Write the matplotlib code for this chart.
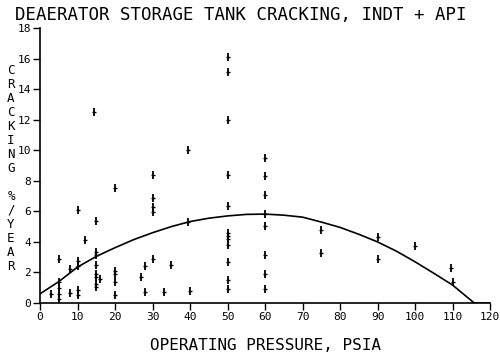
import matplotlib
matplotlib.use("Agg")
import matplotlib.pyplot as plt

# operating pressure (psia) and cracking rate (%/year)
pressure = [3, 5, 5, 5, 5, 5, 8, 8, 10, 10, 10, 10, 10, 12, 14.5, 15, 15, 15, 15,
            15, 15, 15, 15, 16, 20, 20, 20, 20, 20, 27, 28, 28,
            30, 30, 30, 30, 30, 33, 35, 39.5, 39.5, 40,
            50, 50, 50, 50, 50, 50, 50, 50, 50, 50, 50, 50,
            60, 60, 60, 60, 60, 60, 60, 60, 75, 75, 90, 90, 100, 110, 109.5]
cracking = [0.6, 2.9, 1.35, 1.0, 0.6, 0.25, 0.65, 2.2, 6.1, 2.75, 2.45, 0.85, 0.5, 4.1, 12.5, 5.4,
            3.35, 3.15, 2.5, 1.9, 1.7, 1.25, 1.05, 1.55, 7.5, 2.1, 1.9, 1.35, 0.5, 1.7, 2.45, 0.75,
            8.4, 6.85, 6.3, 5.95, 2.9, 0.75, 2.5, 10.0, 5.3, 0.8,
            16.1, 15.1, 12.0, 8.4, 6.35, 4.6, 4.4, 4.2, 3.8, 2.7, 1.5, 0.95,
            9.5, 8.3, 7.1, 5.85, 5.05, 3.15, 1.9, 0.95, 4.75, 3.3, 4.35, 2.9, 3.7, 1.35, 2.3]

# fitted curve
curve_x = [0, 5, 10, 15, 20, 25, 30, 35, 40, 45, 50, 55, 60, 65, 70, 75, 80, 85, 90,
           95, 100, 105, 110, 115.8, 120]
curve_y = [0.6, 1.4, 2.35, 3.05, 3.62, 4.15, 4.6, 5.0, 5.33, 5.55, 5.7, 5.8, 5.82, 5.75,
           5.62, 5.3, 4.95, 4.5, 4.0, 3.4, 2.7, 1.95, 1.18, 0, 0]

x_ticks = list(range(0, 121, 10))
y_ticks = list(range(0, 19, 2))

plt.rcParams['font.family'] = ['DejaVu Sans Mono']

fig = plt.figure(figsize=(5.0, 3.54), dpi=100)
ax = fig.add_axes([0.08, 0.144, 0.9, 0.777])

ax.plot(curve_x, curve_y, color='black', lw=1.2)
ax.plot(pressure, cracking, ls='none', marker='|', ms=6, mew=1.3, color='black')
ax.plot(pressure, cracking, ls='none', marker='_', ms=3, mew=1.0, color='black')

ax.set_xlim(0, 120)
ax.set_ylim(0, 18)
ax.set_xticks(x_ticks)
ax.set_yticks(y_ticks)
ax.tick_params(axis='both', direction='out', length=5, width=1, labelsize=8, pad=1.5)
ax.spines['top'].set_visible(False)
ax.spines['right'].set_visible(False)
ax.spines['left'].set_linewidth(1.2)
ax.spines['bottom'].set_linewidth(1.2)

fig.text(0.03, 0.958, "DEAERATOR STORAGE TANK CRACKING, INDT + API", fontsize=12.5,
         ha='left', va='center')
fig.text(0.53, 0.025, "OPERATING PRESSURE, PSIA", fontsize=11.5, ha='center', va='center')
fig.text(0.022, 0.525, "\n".join("CRACKING %/YEAR"), fontsize=9, ha='center', va='center',
         linespacing=1.1)

fig.savefig("out.png", dpi=100)
